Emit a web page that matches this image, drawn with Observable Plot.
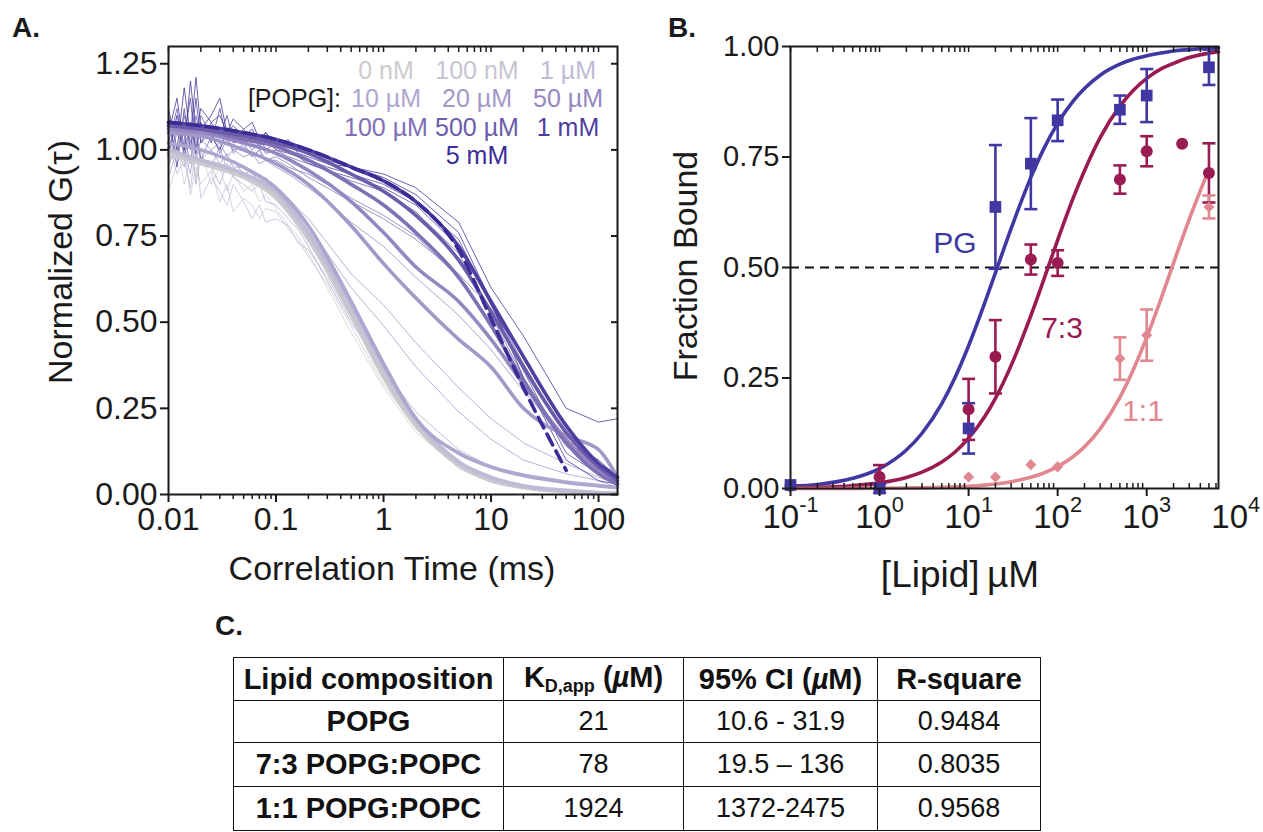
<!DOCTYPE html>
<html><head><meta charset="utf-8">
<script src="https://cdn.jsdelivr.net/npm/d3@7"></script>
<script src="https://cdn.jsdelivr.net/npm/@observablehq/plot@0.6"></script>
<style>
html,body{margin:0;padding:0;background:#fff}
body{width:1263px;height:832px;overflow:hidden;position:relative;font-family:"Liberation Sans",Arial,Helvetica,sans-serif;color:#1a1a1a}
.abs{position:absolute;white-space:nowrap;line-height:1}
#tbl{position:absolute;left:233px;top:657px;border-collapse:collapse;table-layout:fixed;width:807px}
#tbl td,#tbl th{border:1.5px solid #111;padding:0;text-align:center;line-height:1;color:#111}
#tbl th{font-weight:700;font-size:29px}
#tbl td{font-weight:400;font-size:27px}
#tbl sub{font-size:18px;vertical-align:-5px}
</style></head><body>
<div id="A" class="abs" style="left:0;top:0"></div>
<div id="B" class="abs" style="left:640px;top:0"></div>
<script>
// ---------------- DATA: panel A (normalized autocorrelation curves) ----------------
const concLabels = ["0 nM","100 nM","1 µM","10 µM","20 µM","50 µM","100 µM","500 µM","1 mM","5 mM"];
const tauA = [0.01,0.02,0.05,0.1,0.2,0.5,1,2,5,10,20,50,100,150];
const g_0nM   = [0.99,0.96,0.92,0.86,0.74,0.52,0.34,0.20,0.085,0.04,0.02,0.008,0.004,0.002];
const g_100nM = [0.98,0.97,0.93,0.87,0.75,0.53,0.35,0.21,0.09,0.045,0.022,0.01,0.005,0.003];
const g_1uM   = [1.00,0.97,0.93,0.88,0.76,0.55,0.37,0.22,0.095,0.05,0.025,0.012,0.006,0.004];
const g_10uM  = [1.02,1.00,0.95,0.89,0.78,0.56,0.38,0.22,0.12,0.08,0.055,0.035,0.025,0.02];
const g_20uM  = [1.05,1.04,1.00,0.96,0.90,0.78,0.67,0.57,0.45,0.37,0.25,0.17,0.13,0.05];
const g_50uM  = [1.06,1.05,1.02,0.99,0.94,0.85,0.76,0.66,0.56,0.45,0.32,0.16,0.07,0.03];
const g_100uM = [1.07,1.06,1.03,1.01,0.97,0.90,0.84,0.76,0.63,0.49,0.33,0.15,0.06,0.03];
const g_500uM = [1.07,1.06,1.04,1.02,0.99,0.93,0.88,0.81,0.68,0.53,0.37,0.18,0.08,0.04];
const g_1mM   = [1.08,1.07,1.05,1.03,1.00,0.95,0.91,0.85,0.72,0.56,0.40,0.20,0.09,0.05];
const g_5mM   = [1.08,1.07,1.05,1.03,1.00,0.95,0.91,0.85,0.71,0.51,0.31,0.07,null,null];
const thickSets = [g_0nM,g_100nM,g_1uM,g_10uM,g_20uM,g_50uM,g_100uM,g_500uM,g_1mM,g_5mM];

// individual replicate traces
const tauThin = [0.01,0.012,0.014,0.016,0.018,0.02,0.025,0.03,0.035,0.04,0.05,0.06,0.07,0.08,0.1,0.13,0.16,0.2,0.3,0.5,1,2,5,10,20,50,100,150];
const thin_0nM     = [0.95,1.02,0.90,0.98,0.92,1.00,0.90,0.95,0.88,0.93,0.88,0.90,0.85,0.87,0.83,0.78,0.75,0.70,0.60,0.47,0.31,0.18,0.08,0.04,0.02,0.01,0.005,0.0];
const thin_100nM   = [0.88,0.96,1.00,0.87,0.95,0.90,0.94,0.85,0.90,0.82,0.86,0.84,0.80,0.83,0.82,0.77,0.74,0.69,0.61,0.49,0.32,0.19,0.075,0.035,0.018,0.008,0.004,0.0];
const thin_1uM     = [1.02,0.93,0.97,0.89,1.00,0.86,0.92,0.88,0.84,0.90,0.85,0.80,0.84,0.79,0.80,0.78,0.73,0.71,0.63,0.51,0.35,0.21,0.09,0.05,0.025,0.012,0.006,0.002];
const thin_10uM    = [0.92,1.00,0.95,1.05,0.90,0.98,0.95,0.90,0.96,0.92,0.90,0.88,0.90,0.85,0.84,0.80,0.77,0.72,0.62,0.50,0.36,0.24,0.13,0.08,0.06,0.04,0.03,0.02];
const thin_20uM_a  = [1.00,1.10,0.98,1.05,1.02,0.97,1.00,0.96,0.99,0.95,0.95,0.93,0.92,0.90,0.88,0.84,0.81,0.78,0.70,0.60,0.49,0.37,0.24,0.16,0.10,0.06,0.04,0.02];
const thin_20uM_b  = [0.97,1.06,1.00,0.93,1.04,0.98,0.95,1.01,0.94,0.97,0.93,0.94,0.90,0.92,0.89,0.86,0.83,0.80,0.73,0.64,0.55,0.44,0.31,0.22,0.15,0.09,0.05,0.03];
const thin_50uM    = [0.95,1.05,1.00,1.08,0.97,1.03,1.00,1.02,0.98,1.00,0.98,0.99,0.96,0.97,0.95,0.93,0.91,0.89,0.85,0.79,0.72,0.63,0.52,0.42,0.30,0.16,0.10,0.05];
const thin_100uM_a = [1.00,1.08,1.04,0.96,1.10,1.02,1.05,0.99,1.03,1.00,1.01,0.98,1.00,0.97,0.97,0.95,0.94,0.92,0.89,0.85,0.80,0.74,0.64,0.54,0.40,0.20,0.08,0.04];
const thin_100uM_b = [1.08,0.98,1.10,1.02,1.06,0.97,1.04,1.00,1.05,0.99,1.02,0.98,1.00,0.97,0.98,0.96,0.94,0.93,0.90,0.86,0.81,0.75,0.63,0.50,0.32,0.14,0.07,0.02];
const thin_500uM   = [1.02,1.12,0.98,1.08,1.00,1.10,1.04,1.00,1.06,1.02,1.03,1.00,1.02,0.99,1.00,0.98,0.97,0.96,0.94,0.91,0.88,0.82,0.70,0.52,0.34,0.15,0.10,0.05];
const thin_1mM_a   = [1.10,0.95,1.12,1.00,1.15,1.02,1.08,1.04,1.10,1.03,1.06,1.02,1.04,1.00,1.02,1.00,0.98,0.97,0.95,0.93,0.90,0.85,0.74,0.55,0.36,0.12,0.06,0.04];
const thin_1mM_b   = [0.98,1.10,1.04,1.15,0.99,1.08,1.02,1.12,1.03,1.05,1.02,1.04,1.01,1.03,1.00,0.99,0.98,0.96,0.94,0.92,0.89,0.84,0.72,0.55,0.38,0.17,0.09,0.06];
const thin_5mM_a   = [1.05,1.15,1.00,1.20,1.05,1.12,1.08,1.10,1.05,1.07,1.04,1.06,1.02,1.05,1.01,1.03,0.99,0.98,0.96,0.95,0.93,0.89,0.79,0.60,0.46,0.25,0.21,0.22];
const thin_5mM_b   = [1.12,1.00,1.18,1.04,1.21,1.06,1.10,1.15,1.05,1.09,1.06,1.08,1.03,1.05,1.02,1.01,1.00,0.99,0.97,0.95,0.92,0.87,0.76,0.56,0.34,0.10,0.04,0.03];
const thinSets = [["0 nM",thin_0nM],["100 nM",thin_100nM],["1 µM",thin_1uM],["10 µM",thin_10uM],
  ["20 µM",thin_20uM_a],["20 µM",thin_20uM_b],["50 µM",thin_50uM],["100 µM",thin_100uM_a],["100 µM",thin_100uM_b],
  ["500 µM",thin_500uM],["1 mM",thin_1mM_a],["1 mM",thin_1mM_b],["5 mM",thin_5mM_a],["5 mM",thin_5mM_b]];
const yTicksA = [0,0.25,0.5,0.75,1,1.25];
const xTicksA = [0.01,0.1,1,10,100];

// ---------------- DATA: panel B (binding) ----------------
const pgX    = [0.1,1,10,20,50,100,500,1000,5000];
const pgMean = [0.008,0.0,0.136,0.637,0.735,0.833,0.857,0.889,0.953];
const pgErr  = [null,0.01,0.057,0.14,0.103,0.047,0.032,0.06,0.04];
const r73X    = [0.1,1,10,20,50,100,500,1000,2500,5000];
const r73Mean = [0.006,0.026,0.179,0.298,0.518,0.51,0.699,0.763,0.78,0.714];
const r73Err  = [null,0.027,0.069,0.083,0.034,0.029,0.032,0.034,null,0.067];
const r11X    = [10,20,50,100,500,1000,5000];
const r11Mean = [0.026,0.026,0.054,0.049,0.294,0.347,0.637];
const r11Err  = [null,null,null,null,0.048,0.058,0.026];
const fitX   = [0.1,0.2,0.5,1,2,3,5,7,10,15,20,30,50,70,100,150,200,300,500,700,1000,1500,2000,3000,5000,6400];
const fitPG  = [0.005,0.009,0.023,0.045,0.087,0.125,0.192,0.25,0.323,0.417,0.488,0.588,0.704,0.769,0.826,0.877,0.905,0.935,0.96,0.971,0.979,0.986,0.99,0.993,0.996,0.997];
const fit73  = [0.0013,0.0026,0.0064,0.0127,0.025,0.037,0.06,0.082,0.114,0.161,0.204,0.278,0.391,0.473,0.562,0.658,0.719,0.794,0.865,0.9,0.928,0.951,0.962,0.975,0.985,0.988];
const fit11  = [0.0001,0.0001,0.0003,0.0005,0.001,0.0016,0.0026,0.0036,0.005,0.0077,0.0103,0.0154,0.0253,0.0351,0.0494,0.0723,0.0942,0.135,0.206,0.267,0.342,0.438,0.51,0.609,0.722,null];
const seriesNames = ["PG","7:3","1:1"];
const yTicksB = [0,0.25,0.5,0.75,1];
const xTicksB = [0.1,1,10,100,1000];
const xTickB4 = [10000];

// ---------------- DATA: panel C (table) ----------------
const tblComp = ["POPG","7:3 POPG:POPC","1:1 POPG:POPC"];
const tblKd   = ["21","78","1924"];
const tblCI   = ["10.6 - 31.9","19.5 – 136","1372-2475"];
const tblR2   = ["0.9484","0.8035","0.9568"];

// ---------------- STYLE ----------------
const FONT = '"Liberation Sans", Arial, Helvetica, sans-serif';
const concColors = ["#cbcbcd","#c7c5d2","#bfbad6","#aea6cf","#a298c9","#9587c1","#7f6fb5","#6c5bab","#4e3ea0","#3b2d97"];
const seriesColors = ["#4137a3","#9a1a52","#e0878f"];
const INK = "#1a1a1a";

// ---------------- PANEL A ----------------
const thickData = thickSets.flatMap((arr,i)=>arr.map((g,j)=>({tau:tauA[j],g,conc:concLabels[i]}))).filter(d=>d.g!=null);
const thinData = thinSets.flatMap(([conc,arr],i)=>arr.map((g,j)=>({id:i,conc,tau:tauThin[j],g})));
const minorA = [];
for (const dec of [0.01,0.1,1,10,100]) for (let k=2;k<=9;k++){const v=+(dec*k).toPrecision(3); if(v<=150) minorA.push(v);}

const plotA = Plot.plot({
  width:640,height:600,marginLeft:168,marginRight:23,marginTop:46,marginBottom:106,
  style:{fontFamily:FONT,fontSize:"32px",color:INK,background:"transparent",overflow:"visible"},
  x:{type:"log",domain:[0.01,150]},
  y:{domain:[0,1.3]},
  color:{domain:concLabels,range:concColors},
  marks:[
    Plot.line(thinData,{x:"tau",y:"g",z:"id",stroke:"conc",strokeWidth:0.8,strokeOpacity:0.95}),
    Plot.line(thickData.filter(d=>d.conc!=="5 mM"),{x:"tau",y:"g",z:"conc",stroke:"conc",strokeWidth:3.6,curve:"monotone-x"}),
    Plot.line(thickData.filter(d=>d.conc==="5 mM"),{x:"tau",y:"g",stroke:"conc",strokeWidth:3.6,strokeDasharray:"12,7",curve:"monotone-x"}),
    Plot.frame({stroke:INK,strokeWidth:2}),
    Plot.axisY({ticks:yTicksA,tickFormat:d3.format(".2f"),tickSize:8,tickPadding:3,label:null,strokeWidth:2}),
    Plot.axisY({anchor:"right",ticks:yTicksA,tickSize:-7,tickFormat:()=>"",label:null,strokeWidth:2}),
    Plot.axisX({ticks:xTicksA,tickFormat:d3.format("~g"),tickSize:8,tickPadding:5,label:null,strokeWidth:2}),
    Plot.axisX({ticks:minorA,tickSize:5,tickFormat:()=>"",label:null,strokeWidth:1.5}),
    Plot.axisX({anchor:"top",ticks:[...xTicksA,...minorA],tickSize:-5,tickFormat:()=>"",label:null,strokeWidth:1.5})
  ]
});
document.getElementById("A").append(plotA);

// ---------------- PANEL B ----------------
function errRows(xs,means,errs,s){return xs.map((x,i)=>({x,y:means[i],e:errs[i],series:s})).filter(d=>d.e!=null).map(d=>({...d,lo:d.y-d.e,hi:d.y+d.e}));}
const ptsPG = pgX.map((x,i)=>({x,y:pgMean[i],series:"PG"}));
const pts73 = r73X.map((x,i)=>({x,y:r73Mean[i],series:"7:3"}));
const pts11 = r11X.map((x,i)=>({x,y:r11Mean[i],series:"1:1"}));
const errData = [...errRows(pgX,pgMean,pgErr,"PG"),...errRows(r73X,r73Mean,r73Err,"7:3"),...errRows(r11X,r11Mean,r11Err,"1:1")];
const fitData = [[fitPG,"PG"],[fit73,"7:3"],[fit11,"1:1"]].flatMap(([arr,s])=>arr.map((y,i)=>({x:fitX[i],y,series:s}))).filter(d=>d.y!=null);
const minorB = [];
for (const dec of [0.1,1,10,100,1000]) for (let k=2;k<=9;k++){const v=+(dec*k).toPrecision(3); if(v<=6400) minorB.push(v);}
const capSymbol = {draw(ctx,size){const w=Math.sqrt(size/Math.PI); ctx.moveTo(-w,0); ctx.lineTo(w,0);}};
const pow10 = d=>"10^"+Math.round(Math.log10(d));

const plotB = Plot.plot({
  width:623,height:600,marginLeft:150,marginRight:45,marginTop:46,marginBottom:112,
  style:{fontFamily:FONT,fontSize:"29px",color:INK,background:"transparent",overflow:"visible"},
  x:{type:"log",domain:[0.1,6400]},
  y:{domain:[0,1]},
  color:{domain:seriesNames,range:seriesColors},
  marks:[
    Plot.ruleY([0.5],{stroke:"#111",strokeWidth:2,strokeDasharray:"9,6"}),
    Plot.line(fitData,{x:"x",y:"y",z:"series",stroke:"series",strokeWidth:3.6,curve:"monotone-x"}),
    Plot.ruleX(errData,{x:"x",y1:"lo",y2:"hi",stroke:"series",strokeWidth:2.6}),
    Plot.dot(errData,{x:"x",y:"lo",symbol:capSymbol,r:6.5,fill:"none",stroke:"series",strokeWidth:2.6}),
    Plot.dot(errData,{x:"x",y:"hi",symbol:capSymbol,r:6.5,fill:"none",stroke:"series",strokeWidth:2.6}),
    Plot.dot(pts11,{x:"x",y:"y",symbol:"diamond2",r:5,fill:"series",stroke:"none"}),
    Plot.dot(pts73,{x:"x",y:"y",symbol:"circle",r:6,fill:"series",stroke:"none"}),
    Plot.dot(ptsPG,{x:"x",y:"y",symbol:"square",r:6.6,fill:"series",stroke:"none"}),
    Plot.frame({stroke:INK,strokeWidth:2}),
    Plot.axisY({ticks:yTicksB,tickFormat:d3.format(".2f"),tickSize:8,tickPadding:3,label:null,strokeWidth:2}),
    Plot.axisX({ticks:xTicksB,tickFormat:pow10,tickSize:8,tickPadding:8,fontSize:33,label:null,strokeWidth:2}),
    Plot.axisX({ticks:xTickB4,tickFormat:pow10,tickSize:0,tickPadding:16,fontSize:33,label:null,strokeWidth:0}),
    Plot.axisX({ticks:minorB,tickSize:-5,tickFormat:()=>"",label:null,strokeWidth:1.5}),
    Plot.axisX({anchor:"top",ticks:[...xTicksB,...minorB],tickSize:-5,tickFormat:()=>"",label:null,strokeWidth:1.5})
  ]
});
document.getElementById("B").append(plotB);
// superscripts for 10^n tick labels
plotB.querySelectorAll('[aria-label="x-axis tick label"] text').forEach(t=>{
  const m = (t.textContent||"").match(/^10\^(.+)$/); if(!m) return;
  const ns="http://www.w3.org/2000/svg";
  t.textContent="";
  const a=document.createElementNS(ns,"tspan"); a.textContent="10";
  const b=document.createElementNS(ns,"tspan"); b.textContent=m[1]; b.setAttribute("dy","-0.75em"); b.setAttribute("font-size","0.66em");
  t.append(a,b);
});

// ---------------- TEXT ----------------
function label(html,x,y,o={}){
  const el=document.createElement("div"); el.className="abs";
  el.innerHTML=html;
  el.style.left=x+"px"; el.style.top=y+"px";
  el.style.fontSize=(o.size||34)+"px"; el.style.fontWeight=o.weight||400; el.style.color=o.color||INK;
  const tx=o.anchor==="start"?"0":o.anchor==="end"?"-100%":"-50%";
  el.style.transform=`translate(${tx},-50%)`+(o.rotate?` rotate(${o.rotate}deg)`:"");
  document.body.append(el);
}
label("A.",12,28,{size:28,weight:700,anchor:"start"});
label("B.",668,28,{size:28,weight:700,anchor:"start"});
label("C.",215,626,{size:28,weight:700,anchor:"start"});
label("Normalized G(τ)",60,262,{size:34,rotate:-90});
label("Correlation Time (ms)",392,568,{size:34});
label("Fraction Bound",685,266,{size:34,rotate:-90});
label("[Lipid]&thinsp;µM",960,574,{size:37});
// legend of panel A
const legendRows=[[0,1,2],[3,4,5],[6,7,8],[null,9,null]];
const legendX=[386,477,568], legendY=[70,98,127,155];
legendRows.forEach((row,r)=>row.forEach((ci,c)=>{ if(ci==null) return;
  label(concLabels[ci],legendX[c],legendY[r],{size:25,color:concColors[ci]});}));
label("[POPG]:",341,98,{size:25,anchor:"end"});
// curve labels in panel B
label("PG",955,243,{size:30,color:seriesColors[0]});
label("7:3",1062,328,{size:30,color:seriesColors[1]});
label("1:1",1143,411,{size:30,color:seriesColors[2]});

// ---------------- TABLE ----------------
const tbl=document.createElement("table"); tbl.id="tbl";
const widths=[270,180,194,163];
tbl.innerHTML=`<colgroup>${widths.map(w=>`<col style="width:${w}px">`).join("")}</colgroup>`+
 `<tr style="height:43px"><th>Lipid composition</th><th>K<sub>D,app</sub> (<i>µ</i>M)</th><th>95% CI (<i>µ</i>M)</th><th>R-square</th></tr>`+
 tblComp.map((c,i)=>`<tr style="height:${[42,44,44][i]}px"><th>${c}</th><td>${tblKd[i]}</td><td>${tblCI[i]}</td><td>${tblR2[i]}</td></tr>`).join("");
document.body.append(tbl);
</script>
</body></html>
